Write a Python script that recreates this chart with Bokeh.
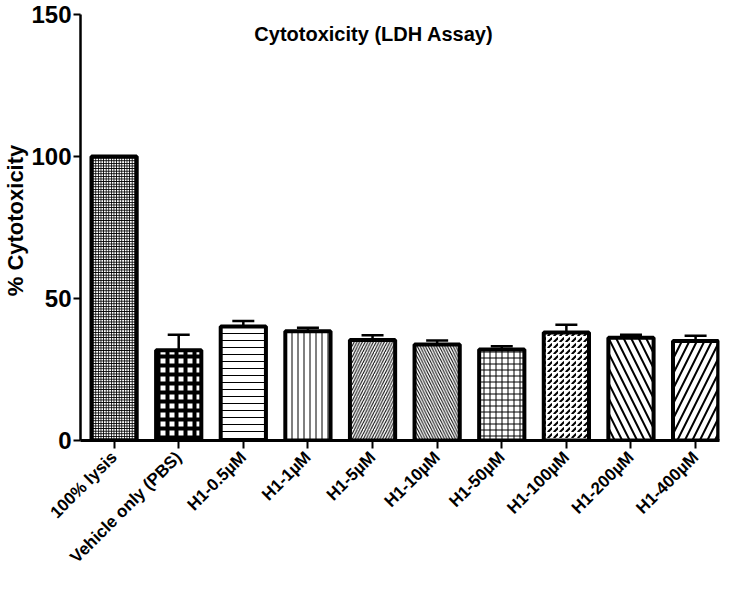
import math
from bokeh.plotting import figure
from bokeh.models import ColumnDataSource, Range1d, FixedTicker, Whisker, TeeHead, Label
from bokeh.embed import file_html
from bokeh.resources import INLINE

categories = ["100% lysis", "Vehicle only (PBS)", "H1-0.5\u00b5M", "H1-1\u00b5M", "H1-5\u00b5M",
              "H1-10\u00b5M", "H1-50\u00b5M", "H1-100\u00b5M", "H1-200\u00b5M", "H1-400\u00b5M"]
means = [100.0, 31.8, 40.1, 38.5, 35.4, 33.8, 32.0, 38.0, 36.2, 35.0]
errors = [0.0, 5.4, 2.0, 1.2, 1.7, 1.4, 1.2, 2.8, 1.0, 1.9]
y_ticks = [0, 50, 100, 150]

patterns = ["cross", "cross", "horizontal_line", "vertical_line", "right_diagonal_line",
            "left_diagonal_line", "cross", "right_diagonal_dash", "left_diagonal_line", "right_diagonal_line"]
scales = [2.6, 9.0, 7.0, 6.0, 5.5, 5.5, 6.0, 6.0, 15.0, 15.0]
weights = [1.0, 4.0, 1.0, 1.0, 1.0, 1.0, 1.0, 2.0, 2.0, 2.0]

xs = list(range(len(categories)))
src = ColumnDataSource(dict(
    x=xs, top=means,
    pat=patterns, sc=scales, wt=weights,
))
err_src = ColumnDataSource(dict(
    x=xs[1:], upper=[m + e for m, e in zip(means[1:], errors[1:])],
    lower=[m - e for m, e in zip(means[1:], errors[1:])],
))

FONT = "Liberation Sans"
W, H = 722, 583
FRAME_H = 440
p = figure(width=W, height=H, output_backend="svg", toolbar_location=None,
           x_range=Range1d(-0.52, 9.37), y_range=Range1d(0, 150 * FRAME_H / 426),
           min_border_left=71, min_border_right=3, min_border_top=0, min_border_bottom=H - FRAME_H)
p.outline_line_color = None
p.grid.visible = False
p.background_fill_color = "white"
p.border_fill_color = "white"

p.vbar(x="x", top="top", bottom=0, width=0.7, source=src,
       fill_color="white", line_color="black", line_width=4,
       hatch_pattern="pat", hatch_scale="sc", hatch_weight="wt", hatch_color="black")

w = Whisker(base="x", upper="upper", lower="lower", source=err_src,
            line_color="black", line_width=2.5,
            upper_head=TeeHead(size=22, line_width=2.5, line_color="black"),
            lower_head=TeeHead(size=22, line_width=2.5, line_color="black"))
p.add_layout(w)

p.add_layout(Label(x=4.02, y=143, text="Cytotoxicity (LDH Assay)", text_align="center",
                   text_baseline="middle", text_font=FONT, text_font_style="bold",
                   text_font_size="20px", text_color="black"))

xa = p.xaxis[0]
xa.ticker = FixedTicker(ticks=xs)
xa.major_label_overrides = {i: c for i, c in enumerate(categories)}
xa.major_label_orientation = math.pi / 4
xa.major_label_text_font = FONT
xa.major_label_text_font_style = "bold"
xa.major_label_text_font_size = "17px"
xa.major_label_text_color = "black"
xa.axis_line_width = 3
xa.axis_line_color = "black"
xa.major_tick_line_width = 2
xa.major_tick_line_color = "black"
xa.major_tick_out = 8
xa.major_tick_in = 0
xa.minor_tick_line_color = None
xa.major_label_standoff = 6

ya = p.yaxis[0]
ya.ticker = FixedTicker(ticks=y_ticks)
ya.bounds = (0, 150)
ya.axis_label = "% Cytotoxicity"
ya.axis_label_text_font = FONT
ya.axis_label_text_font_style = "bold"
ya.axis_label_text_font_size = "22px"
ya.axis_label_text_color = "black"
ya.axis_label_standoff = 0
ya.major_label_text_font = FONT
ya.major_label_text_font_style = "bold"
ya.major_label_text_font_size = "24px"
ya.major_label_text_color = "black"
ya.axis_line_width = 2.5
ya.axis_line_color = "black"
ya.major_tick_line_width = 2
ya.major_tick_line_color = "black"
ya.major_tick_out = 7
ya.major_tick_in = 0
ya.minor_tick_line_color = None
ya.major_label_standoff = 2

open("out.html", "w").write(file_html(p, INLINE))
